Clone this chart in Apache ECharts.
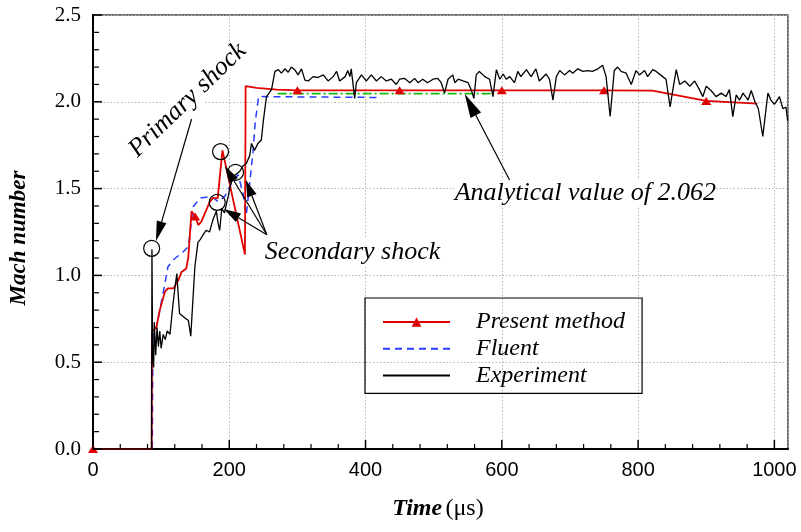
<!DOCTYPE html>
<html>
<head>
<meta charset="utf-8">
<script src="https://cdn.jsdelivr.net/npm/echarts@6/dist/echarts.min.js"></script>
<style>
  html, body { margin: 0; padding: 0; background: #fff; }
  #main { width: 801px; height: 532px; }
</style>
</head>
<body>
<div id="main"></div>
<script>
// Experiment (black)
const expT = [0, 86, 86.5, 87.5, 89, 90, 92, 94, 96, 98, 100, 103, 106, 109, 113, 117, 120, 123, 127, 135, 140, 143.5, 149.5, 154, 157, 161, 166, 171, 176, 181, 183.6, 186, 189, 193, 196, 198.5, 201, 206, 215.5, 220, 225, 230, 232.6, 237, 242, 247, 250, 254.6, 262, 267,
  272, 276.5, 281.5, 286.5, 291, 296, 301, 306, 311, 316, 323, 330, 338, 345, 352.5, 357.5, 362, 370, 374, 377, 379, 384, 386.5, 394, 401, 408.5, 416, 423, 430.5, 438, 445, 450,
  457, 465, 472, 477, 484, 491, 499, 506, 511, 516, 521, 528, 531, 536, 543, 550.5, 555, 559, 562.5, 567, 575, 582, 587, 592, 597, 602, 606.5, 611.5, 618.5, 623.5, 628, 636, 643, 650,
  655, 665, 670, 675, 680, 685, 692, 699.5, 704, 711.5, 719, 726, 733, 741, 748, 753, 759, 765, 770, 775, 782.5, 790, 797, 802, 809.5, 814, 821.5, 826.5, 836, 841, 847, 851, 856,
  861, 868.5, 876, 883, 890, 895, 900, 907, 914.5, 922, 929, 934, 939, 944, 949, 954, 961.5, 966, 971.5, 976.5, 983, 990.5, 995, 1000, 1007.5, 1012.5, 1017, 1019.5];
const expM = [0, 0, 1.15, 0.56, 0.47, 0.73, 0.54, 0.70, 0.59, 0.68, 0.58, 0.66, 0.63, 0.68, 0.66, 0.82, 0.92, 1.01, 0.78, 0.755, 0.74, 0.65, 1.05, 1.19, 1.205, 1.23, 1.26, 1.25, 1.32, 1.37, 1.30, 1.26, 1.385, 1.36, 1.415, 1.455, 1.51, 1.57, 1.60, 1.63, 1.645, 1.69, 1.76, 1.72, 1.76, 1.78, 1.89, 2.03, 2.07, 2.175,
  2.185, 2.165, 2.19, 2.17, 2.20, 2.185, 2.155, 2.19, 2.125, 2.12, 2.145, 2.14, 2.155, 2.12, 2.145, 2.175, 2.12, 2.145, 2.18, 2.145, 2.19, 2.02, 2.11, 2.155, 2.12, 2.155, 2.12, 2.145, 2.12, 2.13, 2.10, 2.13,
  2.135, 2.11, 2.135, 2.11, 2.13, 2.11, 2.13, 2.135, 2.11, 2.05, 2.13, 2.155, 2.11, 2.13, 2.12, 2.11, 2.07, 2.02, 2.155, 2.175, 2.145, 2.13, 2.03, 2.185, 2.13, 2.16, 2.13, 2.145, 2.11, 2.175, 2.145, 2.185, 2.145, 2.19,
  2.12, 2.16, 2.13, 2.01, 2.145, 2.18, 2.155, 2.18, 2.165, 2.19, 2.175, 2.18, 2.175, 2.19, 2.21, 2.145, 1.915, 2.18, 2.20, 2.175, 2.165, 2.10, 2.18, 2.155, 2.18, 2.145, 2.185, 2.175, 2.145, 2.13, 1.97, 2.07, 2.185,
  2.10, 2.12, 2.09, 2.12, 2.07, 2.03, 2.09, 2.065, 2.03, 2.05, 2.03, 2.07, 1.915, 2.04, 2.01, 2.05, 2.01, 2.065, 2.00, 1.96, 1.80, 2.05, 2.01, 1.985, 2.03, 1.96, 1.97, 1.89];

// Present method (red, triangles at every 150 us)
const presentT = [0, 86, 86.5, 93, 98, 105.6, 110, 118, 125, 130, 137, 140, 144.6, 147, 150, 154.5, 159, 171.5, 176, 183, 190, 223, 224, 240, 270, 300, 450, 600, 750, 821, 900, 975];
const presentM = [0, 0, 0.675, 0.70, 0.80, 0.906, 0.925, 0.925, 0.97, 1.02, 1.04, 1.11, 1.37, 1.36, 1.34, 1.29, 1.31, 1.425, 1.445, 1.445, 1.72, 1.12, 2.09, 2.08, 2.07, 2.066, 2.066, 2.066, 2.066, 2.064, 2.005, 1.99];
const presentMarkT = [0, 150, 300, 450, 600, 750, 900];

// Fluent (blue dashed)
const fluentT = [0, 87, 88, 93, 104, 110, 118, 132, 140, 147, 157, 174, 183.6, 193.5, 203, 213, 220, 225, 230, 235, 238, 243, 418];
const fluentM = [0, 0, 0.66, 0.70, 0.92, 1.05, 1.09, 1.135, 1.165, 1.395, 1.445, 1.455, 1.425, 1.455, 1.53, 1.58, 1.475, 1.35, 1.53, 1.72, 1.88, 2.03, 2.025];

// Analytical value (green dash-dot)
const analyticT = [271, 587];
const analyticM = [2.047, 2.047];

const xMax = 1020, yMax = 2.5;
const xMajor = 200, xMinor = 40;   // tick steps, us
const yMajor = 0.5, yMinor = 0.1;  // tick steps, Mach

const zip = (a, b) => a.map((v, i) => [v, b[i]]);

const presentData = presentT.map((t, i) => ({
  value: [t, presentM[i]],
  symbol: presentMarkT.indexOf(t) >= 0 ? 'triangle' : 'none'
}));

const serif = '"Liberation Serif", "Times New Roman", serif';

// plot box, shared by grid and annotation placement
const G = { left: 93, top: 15, width: 695, height: 434 };
const px = (t, m) => [G.left + t / xMax * G.width, G.top + (1 - m / yMax) * G.height];

function arrow(from, to, headLen, headHalf) {
  const a = px(from[0], from[1]);
  const b = px(to[0], to[1]);
  const dx = b[0] - a[0], dy = b[1] - a[1];
  const len = Math.hypot(dx, dy);
  const ux = dx / len, uy = dy / len;
  const bx = b[0] - ux * headLen, by = b[1] - uy * headLen;
  return [
    { type: 'line', z: 50, shape: { x1: a[0], y1: a[1], x2: bx, y2: by }, style: { stroke: '#000', lineWidth: 1.2 } },
    { type: 'polygon', z: 50, shape: { points: [[b[0], b[1]], [bx - uy * headHalf, by + ux * headHalf], [bx + uy * headHalf, by - ux * headHalf]] }, style: { fill: '#000' } }
  ];
}

function ring(t, m) {
  const p = px(t, m);
  return { type: 'circle', z: 50, shape: { cx: p[0], cy: p[1], r: 8 }, style: { fill: 'none', stroke: '#000', lineWidth: 1.2 } };
}

function label(t, m, text, align, rot) {
  const p = px(t, m);
  return {
    type: 'text', z: 1, x: p[0], y: p[1], rotation: rot || 0,
    style: { text: text, font: 'italic 26px ' + serif, fill: '#000', align: align, verticalAlign: 'middle', backgroundColor: '#fff' }
  };
}

// inward ticks along the bottom and left axes
function ticks() {
  const out = [];
  const nx = Math.floor(xMax / xMinor + 1e-9);
  for (let i = 0; i <= nx; i++) {
    const t = i * xMinor;
    const major = (i % Math.round(xMajor / xMinor)) === 0;
    const p = px(t, 0);
    out.push({ type: 'line', z: 60, shape: { x1: p[0], y1: p[1], x2: p[0], y2: p[1] - (major ? 9 : 5) }, style: { stroke: '#000', lineWidth: major ? 1.5 : 1.2 } });
  }
  const ny = Math.round(yMax / yMinor);
  for (let j = 0; j <= ny; j++) {
    const m = j * yMinor;
    const major = (j % Math.round(yMajor / yMinor)) === 0;
    const p = px(0, m);
    out.push({ type: 'line', z: 60, shape: { x1: p[0], y1: p[1], x2: p[0] + (major ? 9 : 6), y2: p[1] }, style: { stroke: '#000', lineWidth: major ? 1.5 : 1.2 } });
  }
  return out;
}

const secFrom = [255.1, 1.234];
const elements = [].concat(
  [ring(86.1, 1.156), ring(187.2, 1.713), ring(209.2, 1.594), ring(182.3, 1.421)],
  arrow([144.7, 1.901], [92.4, 1.198], 20, 5),
  arrow(secFrom, [192.1, 1.382], 17, 5),
  arrow(secFrom, [193.5, 1.630], 17, 5),
  arrow(secFrom, [224.3, 1.550], 17, 5),
  arrow([611.4, 1.550], [545.5, 2.045], 24, 6),
  ticks(),
  [
    label(138.6, 2.010, 'Primary shock', 'center', 44 * Math.PI / 180),
    label(252.2, 1.135, 'Secondary shock', 'left'),
    label(530.8, 1.475, 'Analytical value of 2.062', 'left'),
    {
      type: 'text', x: 19, y: 238, rotation: Math.PI / 2,
      style: { text: 'Mach number', font: 'italic bold 23px ' + serif, fill: '#000', align: 'center', verticalAlign: 'middle' }
    },
    {
      type: 'text', x: 438, y: 509,
      style: {
        text: '{b|Time} {r|(μs)}', align: 'center', verticalAlign: 'middle',
        rich: { b: { font: 'italic bold 24px ' + serif, fill: '#000' }, r: { font: '24px ' + serif, fill: '#000' } }
      }
    },
    {
      type: 'rect', z: 0, shape: { x: G.left, y: G.top, width: G.width, height: G.height },
      style: { fill: 'none', stroke: '#444', lineWidth: 1.5 }
    }
  ]
);

const chartDom = document.getElementById('main');
const myChart = echarts.init(chartDom);

const option = {
  animation: false,
  grid: { left: G.left, top: G.top, width: G.width, height: G.height },
  legend: {
    data: [
      { name: 'Present method' },
      { name: 'Fluent', itemStyle: { opacity: 0 } },
      { name: 'Experiment', itemStyle: { opacity: 0 } }
    ],
    orient: 'vertical', left: 365, top: 298,
    padding: [11, 17, 5, 17],
    itemWidth: 67, itemHeight: 12, itemGap: 0.7,
    borderColor: '#000', borderWidth: 1.2, borderRadius: 0,
    selectedMode: false,
    textStyle: { fontFamily: serif, fontStyle: 'italic', fontSize: 24, color: '#000', lineHeight: 26, padding: [0, 0, 0, 21] }
  },
  xAxis: {
    type: 'value', min: 0, max: xMax, interval: xMajor,
    axisLine: { show: true, lineStyle: { color: '#000', width: 2 } },
    axisTick: { show: false },
    splitLine: { show: true, lineStyle: { color: '#b5b5b5', width: 1, type: [1.5, 2] } },
    axisLabel: { fontFamily: '"Liberation Sans", Arial, sans-serif', fontSize: 20, color: '#000', margin: 11, showMaxLabel: false, formatter: v => String(v) }
  },
  yAxis: {
    type: 'value', min: 0, max: yMax, interval: yMajor,
    axisLine: { show: true, lineStyle: { color: '#000', width: 2 } },
    axisTick: { show: false },
    splitLine: { show: true, lineStyle: { color: '#b5b5b5', width: 1, type: [1.5, 2] } },
    axisLabel: { fontFamily: serif, fontSize: 21, color: '#000', margin: 12, formatter: v => v.toFixed(1) }
  },
  graphic: { elements: elements },
  series: [
    {
      name: 'Analytical', type: 'line', data: zip(analyticT, analyticM), symbol: 'none',
      lineStyle: { color: '#11bb11', width: 1.6, type: [9, 3, 2, 3] }, z: 2
    },
    {
      name: 'Fluent', type: 'line', data: zip(fluentT, fluentM), symbol: 'none',
      lineStyle: { color: '#2a3cff', width: 1.5, type: [7, 5] }, itemStyle: { color: '#2a3cff' }, z: 3
    },
    {
      name: 'Present method', type: 'line', data: presentData, symbol: 'triangle', symbolSize: [10, 8], showAllSymbol: true,
      lineStyle: { color: '#e00000', width: 1.8 }, itemStyle: { color: '#e00000' }, z: 4
    },
    {
      name: 'Experiment', type: 'line', data: zip(expT, expM), symbol: 'none',
      lineStyle: { color: '#000', width: 1.3 }, itemStyle: { color: '#000' }, z: 5
    }
  ]
};
option && myChart.setOption(option);
</script>
</body>
</html>
